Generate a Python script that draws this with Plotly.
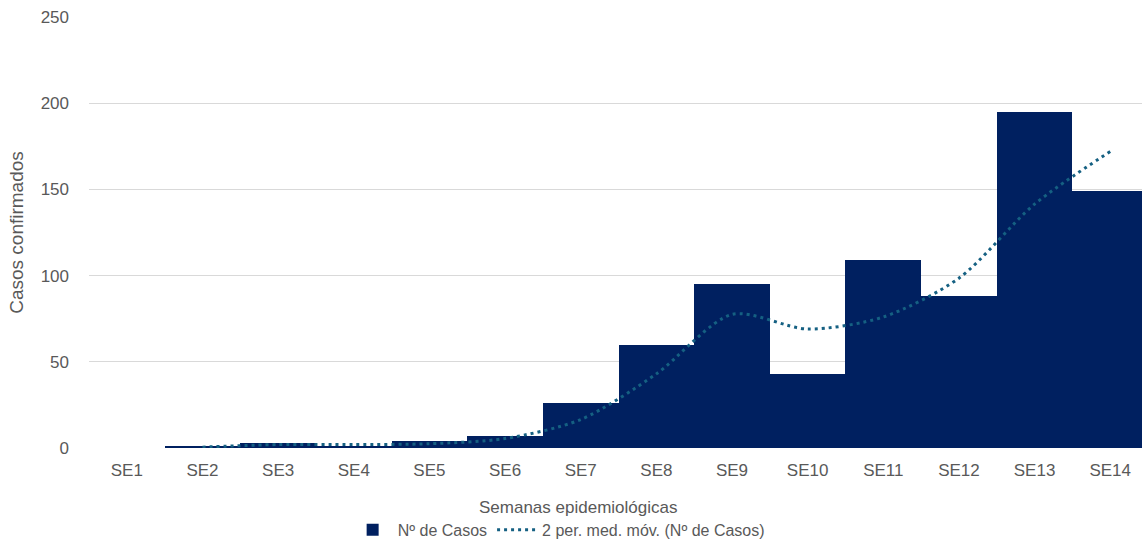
import plotly.graph_objects as go

categories = ["SE1", "SE2", "SE3", "SE4", "SE5", "SE6", "SE7", "SE8", "SE9", "SE10", "SE11", "SE12", "SE13", "SE14"]
casos = [0, 1, 3, 1, 4, 7, 26, 60, 95, 43, 109, 88, 195, 149]
y_ticks = [0, 50, 100, 150, 200, 250]

# 2-period moving average (as in the chart's trendline)
mov_avg_x = categories[1:]
mov_avg = [(casos[i - 1] + casos[i]) / 2 for i in range(1, len(casos))]

font_family = "Liberation Sans, Arial, sans-serif"
grey = "#595959"

fig = go.Figure()
fig.add_trace(go.Bar(
    x=categories, y=casos, name="Nº de Casos",
    marker=dict(color="#002060", line=dict(width=0)),
))
fig.add_trace(go.Scatter(
    x=mov_avg_x, y=mov_avg, mode="lines", name="2 per. med. móv. (Nº de Casos)",
    line=dict(color="#156082", width=3, dash="3px,4px", shape="spline", smoothing=0.8),
))

fig.update_layout(
    width=1142, height=544,
    margin=dict(l=89, r=0, t=17, b=96, autoexpand=False),
    plot_bgcolor="white", paper_bgcolor="white",
    bargap=0,
    font=dict(family=font_family, size=16, color=grey),
    showlegend=True,
    legend=dict(orientation="h", x=0.446, xanchor="center", xref="paper", y=-0.19, yanchor="middle",
                font=dict(size=16, color=grey), itemwidth=40),
    xaxis=dict(
        type="category", categoryorder="array", categoryarray=categories,
        range=[-0.5, 13.42], showgrid=False, zeroline=False, showline=False,
        ticks="", tickfont=dict(size=17, color=grey), ticklabelstandoff=10,
    ),
    yaxis=dict(
        range=[0, 250.05], tickvals=y_ticks, showgrid=True, gridcolor="#d9d9d9", gridwidth=1,
        zeroline=False, showline=False, ticks="", ticklabelstandoff=19,
        tickfont=dict(size=17, color=grey),
        title=dict(text="Casos confirmados", font=dict(size=19, color=grey), standoff=11),
    ),
    annotations=[dict(
        text="Semanas epidemiológicas", xref="paper", yref="paper",
        x=0.464, y=-0.139, xanchor="center", yanchor="middle",
        showarrow=False, font=dict(size=17, color=grey),
    )],
)

fig.write_html("out.html", config={"displayModeBar": False},
               post_script="document.body.style.margin='0px';")
